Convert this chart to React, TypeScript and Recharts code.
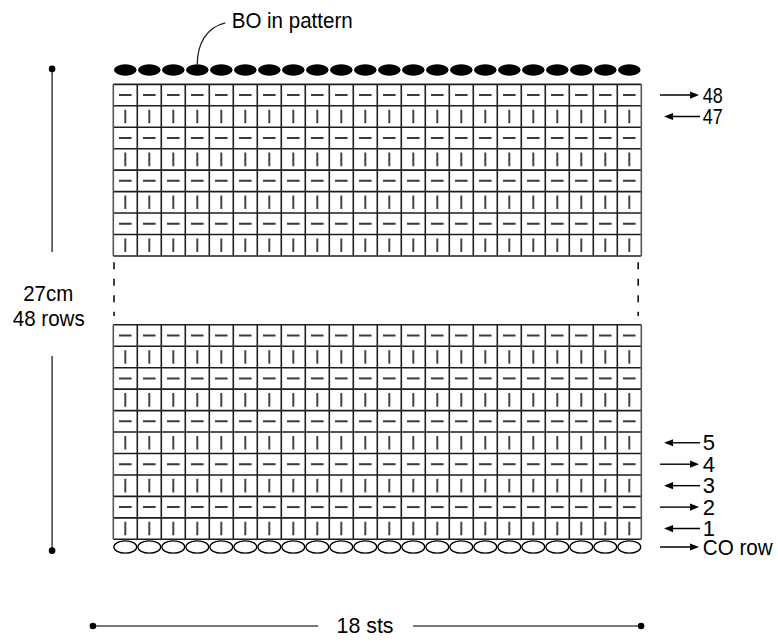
import React from 'react';
import { ComposedChart, XAxis, YAxis, Scatter, ReferenceLine, ReferenceDot } from 'recharts';

// ---- chart content ----
const stitchColumns = [1, 2, 3, 4, 5, 6, 7, 8, 9, 10, 11, 12, 13, 14, 15, 16, 17, 18, 19, 20, 21, 22];
const topBlockRows = [48, 47, 46, 45, 44, 43, 42, 41];
const bottomBlockRows = [10, 9, 8, 7, 6, 5, 4, 3, 2, 1];
const rowMarkerRows = [48, 47, 5, 4, 3, 2, 1];
const rowMarkerDirs = ['right', 'left', 'left', 'right', 'left', 'right', 'left'];
const castOnLabel = 'CO row';
const bindOffLabel = 'BO in pattern';
const heightLabels = ['27cm', '48 rows'];
const widthLabel = '18 sts';
const calloutColumn = 4;

// ---- layout ----
const GAP = 3.21; // vertical gap (in rows) between the two drawn blocks
const FONT = "'Liberation Sans Narrow','Arial Narrow','Liberation Sans',Arial,sans-serif";
const W = 778;
const H = 643;

const rowPos = (row: number) => (row <= 10 ? row - 0.5 : row - 41 + 10 + GAP + 0.5);
const isPurl = (row: number) => row % 2 === 0;

const bottomLo = 0;
const bottomHi = bottomBlockRows.length;
const topLo = bottomHi + GAP;
const topHi = topLo + topBlockRows.length;
const nCols = stitchColumns.length;

const cellData = [...topBlockRows, ...bottomBlockRows].flatMap((row) =>
  stitchColumns.map((c) => ({ x: c - 0.5, y: rowPos(row), purl: isPurl(row) }))
);
const boData = stitchColumns.map((c) => ({ x: c - 0.5, y: topHi + 0.67 }));
const coData = stitchColumns.map((c) => ({ x: c - 0.5, y: -0.36 }));
const markerData = rowMarkerRows.map((row, i) => ({
  x: 24.56,
  y: rowPos(row),
  label: String(row),
  dir: rowMarkerDirs[i],
}));
markerData.push({ x: 24.56, y: -0.36, label: castOnLabel, dir: 'right' });

const INK = '#1e1e1e';
const GRID_W = 1.6;

const hLines: { y: number; lo: number; hi: number }[] = [];
for (let i = 0; i <= bottomBlockRows.length; i++) hLines.push({ y: bottomLo + i, lo: 0, hi: nCols });
for (let i = 0; i <= topBlockRows.length; i++) hLines.push({ y: topLo + i, lo: 0, hi: nCols });
const vLines: { x: number; lo: number; hi: number }[] = [];
for (let c = 0; c <= nCols; c++) {
  vLines.push({ x: c, lo: bottomLo, hi: bottomHi });
  vLines.push({ x: c, lo: topLo, hi: topHi });
}

const StitchShape = (props: any) => {
  const { cx, cy, payload } = props;
  if (payload.purl) {
    return <line x1={cx - 6.3} x2={cx + 6.3} y1={cy} y2={cy} stroke="#3a3a3a" strokeWidth={2} />;
  }
  return <line x1={cx} x2={cx} y1={cy - 6.8} y2={cy + 6.8} stroke="#444" strokeWidth={2} />;
};

const BoShape = (props: any) => <ellipse cx={props.cx} cy={props.cy} rx={11.3} ry={5.7} fill="#000" />;
const CoShape = (props: any) => (
  <ellipse cx={props.cx} cy={props.cy} rx={11.4} ry={6.2} fill="#fff" stroke="#000" strokeWidth={1.3} />
);

const textLen: Record<string, number> = { '48': 20, '47': 20, 'CO row': 70 };

const MarkerShape = (props: any) => {
  const { cx, cy, payload } = props;
  const right = payload.dir === 'right';
  const tip = right ? cx - 3.7 : cx - 38.7;
  const tail = right ? cx - 42.7 : cx - 2.7;
  const headBase = right ? tip - 9 : tip + 9;
  const tl = textLen[payload.label];
  return (
    <g>
      <line x1={tail} x2={headBase} y1={cy} y2={cy} stroke="#000" strokeWidth={1.4} />
      <polygon points={`${tip},${cy} ${headBase},${cy - 3.6} ${headBase},${cy + 3.6}`} fill="#000" />
      <text
        x={cx}
        y={cy + 7.6}
        fontSize={22}
        fontFamily={FONT}
        fill="#000"
        {...(tl ? { textLength: tl, lengthAdjust: 'spacingAndGlyphs' } : {})}
      >
        {payload.label}
      </text>
    </g>
  );
};

const CalloutShape = (props: any) => {
  const { cx, cy } = props;
  const sy = cy - 5.7;
  return (
    <g>
      <path
        d={`M${cx},${sy} C${cx},${sy - 20} ${cx + 9},${sy - 37} ${cx + 28},${sy - 41.5}`}
        fill="none"
        stroke="#222"
        strokeWidth={1.3}
      />
      <text
        x={cx + 34.4}
        y={cy - 41.7}
        fontSize={22}
        fontFamily={FONT}
        fill="#000"
        textLength={121}
        lengthAdjust="spacingAndGlyphs"
      >
        {bindOffLabel}
      </text>
    </g>
  );
};

const makeText = (label: string, len: number) => (props: any) => (
  <text
    x={props.cx}
    y={props.cy}
    fontSize={22}
    fontFamily={FONT}
    fill="#000"
    textAnchor="middle"
    textLength={len}
    lengthAdjust="spacingAndGlyphs"
  >
    {label}
  </text>
);

const DIM = '#4a4a4a';

export default function App() {
  return (
    <div style={{ position: 'absolute', left: 0, top: 0, width: W, height: H, background: '#fff' }}>
      <ComposedChart
        width={W}
        height={H}
        margin={{ top: 3.05, right: 4.7, bottom: 7.2, left: 5.3 }}
        style={{ fontFamily: FONT }}
      >
        <XAxis type="number" dataKey="x" domain={[-4.5, 27.5]} hide allowDataOverflow />
        <YAxis type="number" dataKey="y" domain={[-4.5, 25]} hide allowDataOverflow />

        {/* grid */}
        {hLines.map((l, i) => (
          <ReferenceLine
            key={`h${i}`}
            segment={[{ x: l.lo, y: l.y }, { x: l.hi, y: l.y }]}
            stroke={INK}
            strokeWidth={GRID_W}
            ifOverflow="visible"
          />
        ))}
        {vLines.map((l, i) => (
          <ReferenceLine
            key={`v${i}`}
            segment={[{ x: l.x, y: l.lo }, { x: l.x, y: l.hi }]}
            stroke={l.x === 0 || l.x === nCols ? '#555' : INK}
            strokeWidth={GRID_W}
            ifOverflow="visible"
          />
        ))}

        {/* omitted-rows dashed lines */}
        <ReferenceLine
          segment={[{ x: 0.03, y: 12.91 }, { x: 0.03, y: 10.41 }]}
          stroke="#000"
          strokeWidth={1.5}
          strokeDasharray="7 9.5"
          ifOverflow="visible"
        />
        <ReferenceLine
          segment={[{ x: 21.87, y: 12.91 }, { x: 21.87, y: 10.41 }]}
          stroke="#000"
          strokeWidth={1.5}
          strokeDasharray="7 9.5"
          ifOverflow="visible"
        />

        <Scatter data={cellData} shape={StitchShape} isAnimationActive={false} />
        <Scatter data={boData} shape={BoShape} isAnimationActive={false} />
        <Scatter data={coData} shape={CoShape} isAnimationActive={false} />
        <Scatter data={markerData} shape={MarkerShape} isAnimationActive={false} />

        {/* callout for bind off */}
        <ReferenceDot x={calloutColumn - 0.5} y={topHi + 0.67} r={1} shape={CalloutShape} ifOverflow="visible" />

        {/* height dimension */}
        <ReferenceLine segment={[{ x: -2.55, y: 21.93 }, { x: -2.55, y: 13.39 }]} stroke={DIM} strokeWidth={1.6} ifOverflow="visible" />
        <ReferenceLine segment={[{ x: -2.55, y: 8.55 }, { x: -2.55, y: -0.53 }]} stroke={DIM} strokeWidth={1.6} ifOverflow="visible" />
        <ReferenceDot x={-2.55} y={21.93} r={3.3} fill="#000" stroke="none" ifOverflow="visible" />
        <ReferenceDot x={-2.55} y={-0.53} r={3.3} fill="#000" stroke="none" ifOverflow="visible" />
        <ReferenceDot x={-2.71} y={11.13} r={1} shape={makeText(heightLabels[0], 50)} ifOverflow="visible" />
        <ReferenceDot x={-2.69} y={9.96} r={1} shape={makeText(heightLabels[1], 72)} ifOverflow="visible" />

        {/* width dimension */}
        <ReferenceLine segment={[{ x: -0.85, y: -4.04 }, { x: 8.53, y: -4.04 }]} stroke={DIM} strokeWidth={1.6} ifOverflow="visible" />
        <ReferenceLine segment={[{ x: 12.49, y: -4.04 }, { x: 21.99, y: -4.04 }]} stroke={DIM} strokeWidth={1.6} ifOverflow="visible" />
        <ReferenceDot x={-0.85} y={-4.04} r={3.3} fill="#000" stroke="none" ifOverflow="visible" />
        <ReferenceDot x={21.99} y={-4.04} r={3.3} fill="#000" stroke="none" ifOverflow="visible" />
        <ReferenceDot x={10.49} y={-4.39} r={1} shape={makeText(widthLabel, 57)} ifOverflow="visible" />
      </ComposedChart>
    </div>
  );
}
